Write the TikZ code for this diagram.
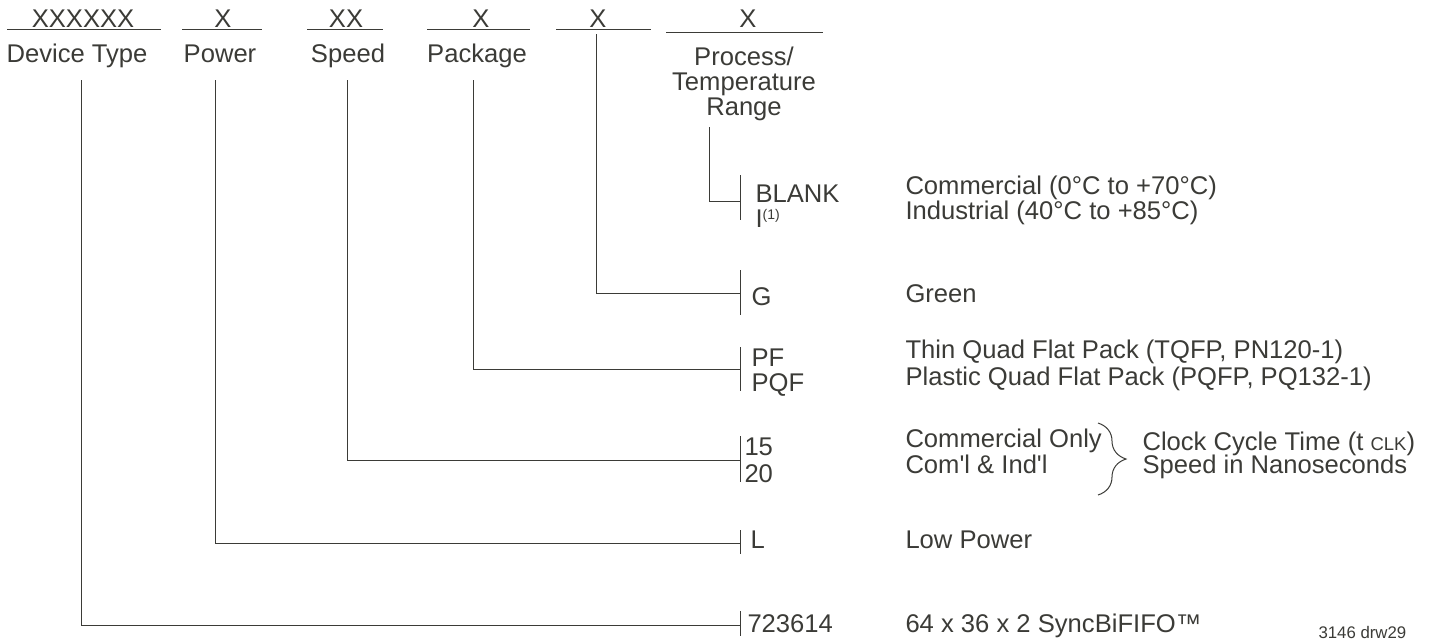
\documentclass[tikz,border=0pt]{standalone}
\usepackage{fontspec}
\setmainfont{Liberation Sans}
\usetikzlibrary{decorations.pathreplacing}
\definecolor{ink}{HTML}{3B3B37}

\begin{document}
\begin{tikzpicture}[x=1pt,y=-1pt,line width=1pt,draw=ink,
    every node/.style={inner sep=0pt,text=ink,font=\fontsize{25.6}{25}\selectfont}]
\useasboundingbox (0,0) rectangle (1439,641);
% part number fields
\foreach \n/\code/\lbl/\xc/\xa/\xb/\xl in {%
    dev/XXXXXX/Device Type/83/7/161/77,%
    pwr/X/Power/223/182/262/220,%
    spd/XX/Speed/346/307/383/348,%
    pkg/X/Package/481/427/530/477%
}{
    \node[anchor=base] (code-\n) at (\xc,27) {\code};
    \draw (\xa,29) -- (\xb,29);
    \node[anchor=base] (lbl-\n) at (\xl,62) {\lbl};
}
\node[anchor=base] (code-grn) at (598,27) {X};
\draw (556,29) -- (651,29);
\node[anchor=base] (code-tmp) at (748,27) {X};
\draw (666,32) -- (823,32);
\node[anchor=north,align=center] (lbl-tmp) at (744,46) {Process/\\Temperature\\Range};
% branches down to the option ticks
\foreach \n/\xv/\ytop/\yj/\ya/\yb in {%
    dev/81/80/625/611/636,%
    pwr/215/80/543/530/554,%
    spd/347/80/460/436/482,%
    pkg/473/80/369/347/391,%
    grn/596/34/293/270/315,%
    tmp/709/127/201/175/220%
}{
    \coordinate (top-\n) at (\xv,\ytop);
    \coordinate (join-\n) at (740,\yj);
    \draw (top-\n) |- (join-\n);
    \draw (740,\ya) -- (740,\yb);
}
% option codes
\node[anchor=base west] (opt-blank) at (755,202) {BLANK};
\node[anchor=base west] (opt-ind) at (755,227) {I\raisebox{8pt}{\fontsize{14}{14}\selectfont(1)}};
\node[anchor=base west] (opt-g) at (751,305) {G};
\node[anchor=base west] (opt-pf) at (751,366) {PF};
\node[anchor=base west] (opt-pqf) at (751,391) {PQF};
\node[anchor=base west] (opt-15) at (744,455) {15};
\node[anchor=base west] (opt-20) at (744,482) {20};
\node[anchor=base west] (opt-l) at (750,548) {L};
\node[anchor=base west] (opt-dev) at (747,632) {723614};
% descriptions
\node[anchor=base west] (txt-com) at (905,194) {Commercial (0°C to +70°C)};
\node[anchor=base west] (txt-ind) at (905,219) {Industrial (40°C to +85°C)};
\node[anchor=base west] (txt-grn) at (905,302) {Green};
\node[anchor=base west] (txt-tqfp) at (905,358) {Thin Quad Flat Pack (TQFP, PN120-1)};
\node[anchor=base west] (txt-pqfp) at (905,385) {Plastic Quad Flat Pack (PQFP, PQ132-1)};
\node[anchor=base west] (txt-conly) at (905,447) {Commercial Only};
\node[anchor=base west] (txt-cind) at (905,473) {Com\textquotesingle l \& Ind\textquotesingle l};
\node[anchor=base west] (txt-low) at (905,548) {Low Power};
\node[anchor=base west] (txt-dev) at (905,632) {64 x 36 x 2 SyncBiFIFO™};
% speed brace
\coordinate (brace-top) at (1098,423);
\coordinate (brace-bot) at (1098,495);
\draw[line width=1pt,decorate,decoration={brace,amplitude=28pt}] (brace-top) -- (brace-bot);
\node[anchor=base west] (txt-clk) at (1142,450) {Clock Cycle Time (t {\fontsize{18.5}{18.5}\selectfont CLK})};
\node[anchor=base west] (txt-ns) at (1142,473) {Speed in Nanoseconds};
\node[anchor=base west,font=\fontsize{16.8}{17}\selectfont] (drw) at (1318,638) {3146 drw29};
\end{tikzpicture}
\end{document}
